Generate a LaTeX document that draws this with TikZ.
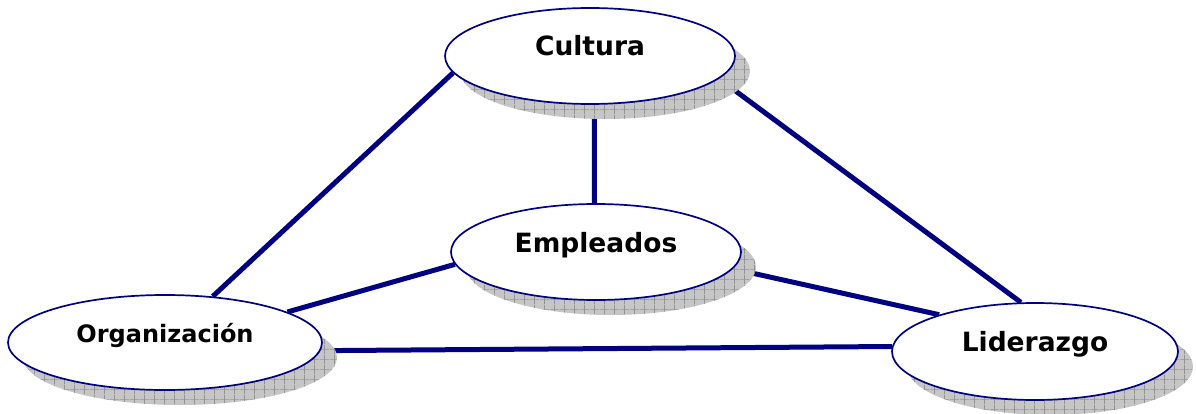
\documentclass[tikz,border=0pt]{standalone}
\usepackage{fontspec}
\setmainfont{DejaVu Sans}
\usepackage{tikz}
\usetikzlibrary{shapes.geometric, shadows, patterns.meta, backgrounds}
\definecolor{azul}{RGB}{0,0,128}

\tikzdeclarepattern{
  name=rejilla,
  type=uncolored,
  bottom left={(0pt,0pt)},
  top right={(10pt,10pt)},
  tile size={(10pt,10pt)},
  code={
    \draw[line width=0.7pt] (0pt,5pt) -- (10pt,5pt) (5pt,0pt) -- (5pt,10pt);
  }
}

\begin{document}
\begin{tikzpicture}[x=1pt, y=1pt]
\tikzstyle{concepto} = [shape=ellipse, draw=azul, line width=1.7pt, fill=white, inner sep=0pt, minimum width=290pt, minimum height=96pt, text height=10pt, text depth=10pt, font=\fontsize{26.5}{26.5}\selectfont\bfseries, drop shadow={shadow xshift=15pt, shadow yshift=-15pt, opacity=1, fill=gray!45}, drop shadow={shadow xshift=15pt, shadow yshift=-15pt, opacity=1, pattern=rejilla, pattern color=gray!85}];
\tikzstyle{enlace} = [draw=azul, line width=5pt];

\useasboundingbox (0,0) rectangle (1196,-414);

\node[concepto](Cultura) at (590,-56) {Cultura};
\node[concepto](Empleados) at (596,-252) {Empleados};
\node[concepto, minimum width=314pt, minimum height=95pt, font=\fontsize{24}{24}\selectfont\bfseries](Organizacion) at (165,-342.5) {Organización};
\node[concepto, minimum width=286pt, minimum height=97pt](Liderazgo) at (1035,-351.5) {Liderazgo};

\begin{scope}[on background layer]
\draw[enlace]
    (Cultura.187) edge (Organizacion.44)
    (Cultura.275) edge (Empleados.92)
    (Cultura.350) edge (Liderazgo.106)
    (Organizacion.14) edge (Empleados.185)
    (Empleados.353) edge (Liderazgo.159)
    (Organizacion.357) edge (Liderazgo.178)
;
\end{scope}
\end{tikzpicture}
\end{document}
